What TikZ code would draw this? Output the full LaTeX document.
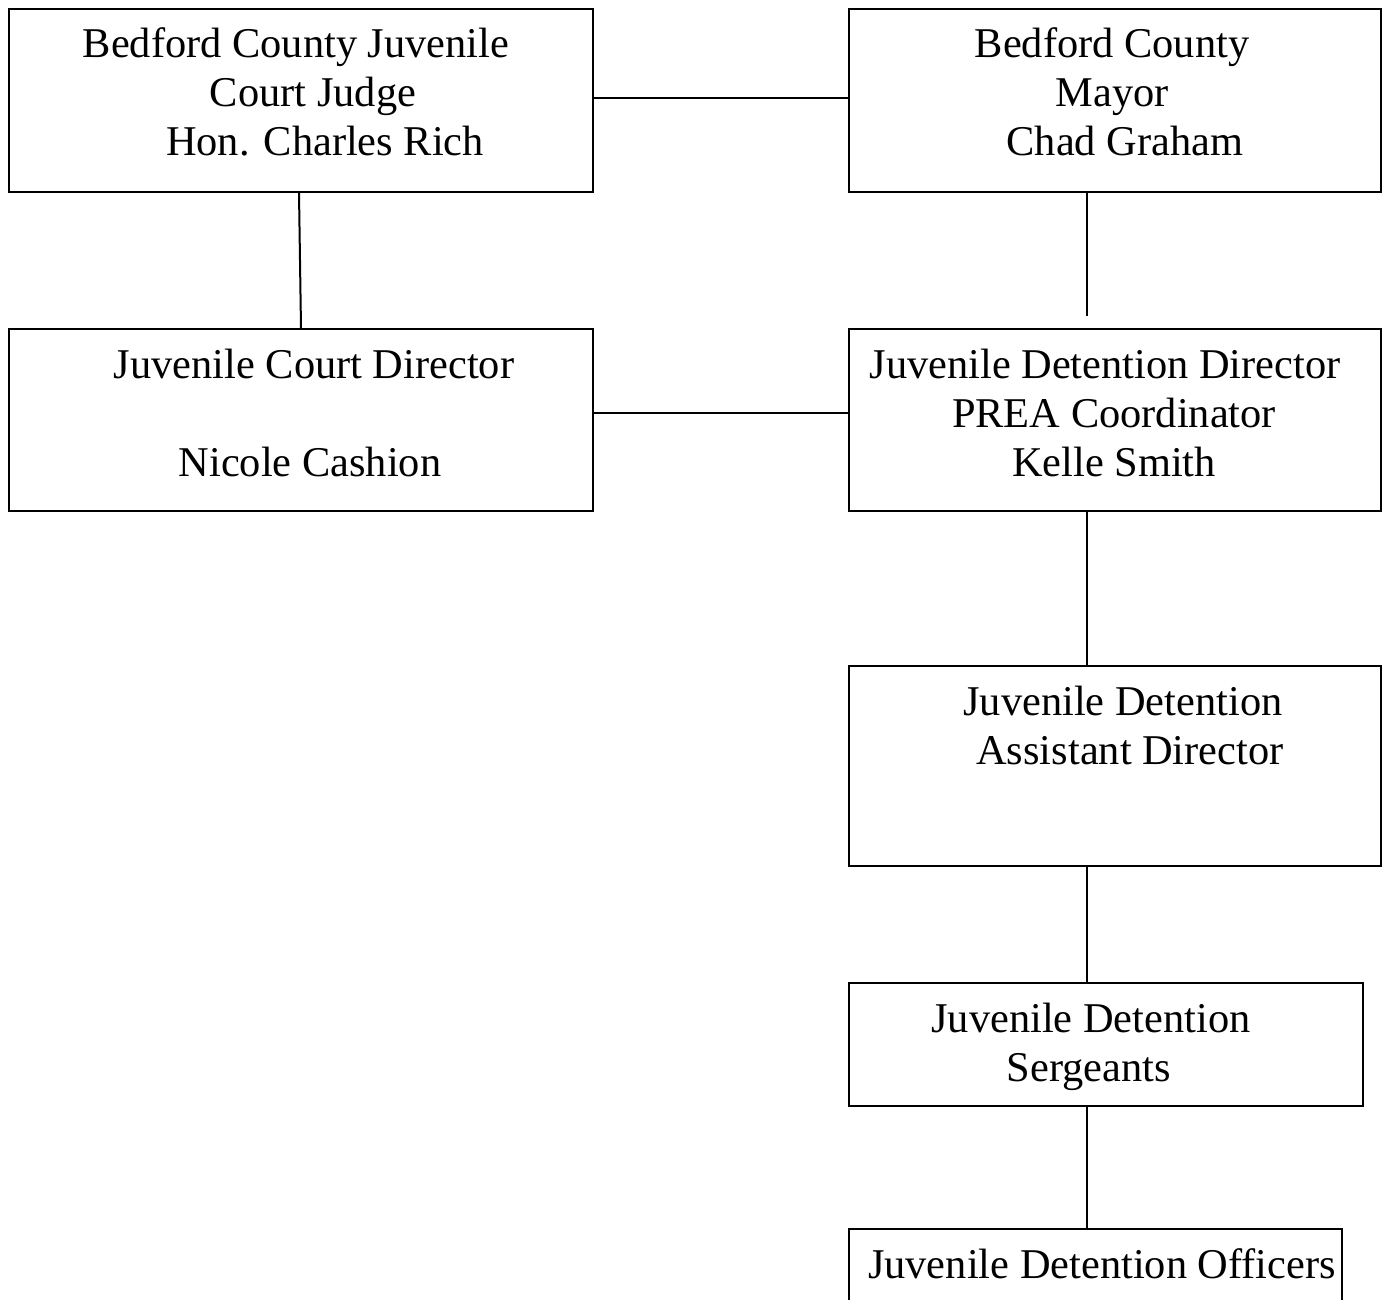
\documentclass[tikz,border=0pt]{standalone}
\usepackage{fontspec}
\setmainfont{Liberation Serif}
\usepackage{tikz}
\usetikzlibrary{positioning}

\begin{document}
\begin{tikzpicture}[x=1pt,y=-1pt,line width=2pt,
                    box/.style={draw,rectangle,inner sep=0pt,anchor=north west},
                    txt/.style={anchor=base,align=center,inner sep=0pt,
                      font={\fontsize{42.4pt}{49pt}\selectfont}}]
  \useasboundingbox (0,0) rectangle (1385,1300);
  \clip (0,0) rectangle (1385,1300);

  % boxes
  \node[box,minimum width=584pt,minimum height=183pt] (judge) at (8,8) {};
  \node[box,minimum width=532pt,minimum height=183pt] (mayor) at (848,8) {};
  \node[box,minimum width=584pt,minimum height=182pt] (cdir) at (8,328) {};
  \node[box,minimum width=532pt,minimum height=182pt] (ddir) at (848,328) {};
  \node[box,minimum width=532pt,minimum height=200pt] (asst) at (848,665) {};
  \node[box,minimum width=514pt,minimum height=123pt] (sgt) at (848,982) {};
  \node[box,minimum width=493pt,minimum height=120pt] (off) at (848,1228) {};

  % texts (base = baseline of the last line)
  \node[txt] (judgetxt) at (296,156) {Bedford County Juvenile\\\hspace*{34pt}Court Judge\\\hspace*{58pt}Hon. Charles Rich};
  \node[txt] (mayortxt) at (1112,156) {Bedford County\\Mayor\\\hspace*{26pt}Chad Graham};
  \node[txt] (cdirtxt) at (314,476) {Juvenile Court Director\\ \\\hspace*{-8pt}Nicole Cashion};
  \node[txt] (ddirtxt) at (1105,476) {Juvenile Detention Director\\\hspace*{18pt}PREA Coordinator\\\hspace*{18pt}Kelle Smith};
  \node[txt] (assttxt) at (1123,764) {Juvenile Detention\\\hspace*{14pt}Assistant Director};
  \node[txt] (sgttxt) at (1091,1081) {Juvenile Detention\\\hspace*{-4pt}Sergeants};
  \node[txt] (offtxt) at (1102,1278) {Juvenile Detention Officers};

  \coordinate (spine) at (1087,0);
  \coordinate (mayorend) at (1087,316);

  % connectors
  \draw ([yshift=2.5pt]judge.east) -- ([yshift=2.5pt]mayor.west);
  \draw ([xshift=-2pt]judge.south) -- (cdir.north);
  \draw (mayor.south -| spine) -- (mayorend);
  \draw ([yshift=7pt]cdir.east) -- ([yshift=7pt]ddir.west);
  \draw (ddir.south -| spine) -- (asst.north -| spine);
  \draw (asst.south -| spine) -- (sgt.north -| spine);
  \draw (sgt.south -| spine) -- (off.north -| spine);

\end{tikzpicture}
\end{document}
